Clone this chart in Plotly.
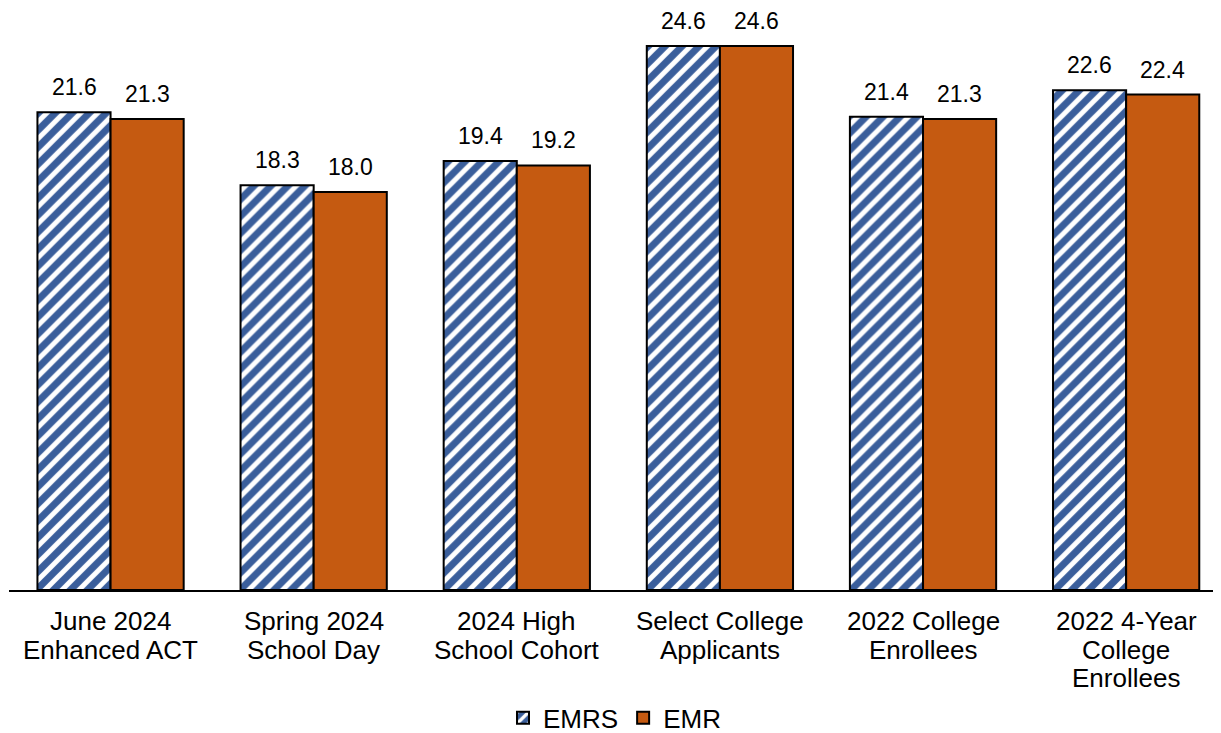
import plotly.graph_objects as go

categories = ["June 2024<br>Enhanced ACT", "Spring 2024<br>School Day", "2024 High<br>School Cohort",
              "Select College<br>Applicants", "2022 College<br>Enrollees", "2022 4-Year<br>College<br>Enrollees"]
emrs = [21.6, 18.3, 19.4, 24.6, 21.4, 22.6]
emr = [21.3, 18.0, 19.2, 24.6, 21.3, 22.4]

BLUE = "#3A5E9B"
ORANGE = "#C55A11"
BARGAP = 0.28
half = (1 - BARGAP) / 4  # offset of each bar centre from the category centre

xs = list(range(len(categories)))

fig = go.Figure()
fig.add_trace(go.Bar(
    x=xs, y=emrs, name="EMRS",
    marker=dict(color=BLUE, line=dict(color="black", width=2),
                pattern=dict(shape="/", bgcolor=BLUE, fgcolor="white", fgopacity=1,
                             size=12, solidity=0.42, fillmode="replace")),
))
fig.add_trace(go.Bar(
    x=xs, y=emr, name="EMR",
    marker=dict(color=ORANGE, line=dict(color="black", width=2)),
))

annotations = []
# value labels
for series, sign in ((emrs, -1), (emr, 1)):
    for i, v in enumerate(series):
        annotations.append(dict(x=i + sign * half, y=v, xref="x", yref="y", text=f"{v:.1f}",
                                showarrow=False, yanchor="middle", yshift=25,
                                font=dict(size=23, color="black")))
# category labels (tight line spacing)
for i, cat in enumerate(categories):
    for j, line in enumerate(cat.split("<br>")):
        annotations.append(dict(x=i, y=0, xref="x", yref="y", text=line, showarrow=False,
                                yanchor="middle", yshift=-(31 + j * 28.5),
                                font=dict(size=26, color="black")))

fig.update_layout(
    width=1213, height=725,
    margin=dict(l=1, r=0, t=7, b=143, autoexpand=False),
    plot_bgcolor="white", paper_bgcolor="white",
    font=dict(family="Liberation Sans, Arial", size=20, color="black"),
    barmode="group", bargap=BARGAP, bargroupgap=0,
    showlegend=True,
    legend=dict(orientation="h", x=0.5, xanchor="center", xref="container",
                y=0.021, yanchor="middle", yref="container",
                font=dict(size=26), itemwidth=30, traceorder="normal"),
    xaxis=dict(showline=True, linecolor="black", linewidth=2, ticks="", showticklabels=False,
               range=[-0.5, 5.467], showgrid=False, zeroline=False),
    yaxis=dict(range=[0, 26], visible=False, showgrid=False, zeroline=False),
    annotations=annotations,
)
fig.write_html("out.html")
